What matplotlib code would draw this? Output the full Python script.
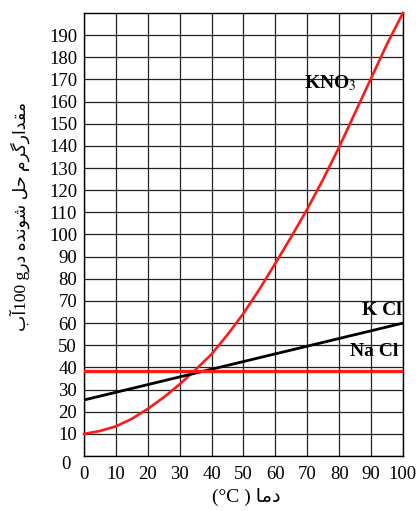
import matplotlib
matplotlib.use("Agg")
import matplotlib.pyplot as plt
import matplotlib.transforms as mtransforms

# ---------------- data ----------------
temps_kno3 = [0, 5, 10, 15, 20, 25, 30, 35, 40, 45, 50, 55, 60, 65, 70, 75, 80, 85, 90, 95, 100]
kno3 = [10, 11.3, 13.4, 16.8, 21.3, 26.5, 32.4, 39, 46, 54.8, 64.4, 75.3, 87, 99, 111.5, 125, 139.5, 155, 170.5, 186, 200]
temps_kcl = [0, 100]
kcl = [25.3, 60]
temps_nacl = [0, 100]
nacl = [38.5, 38.5]
xticks = list(range(0, 101, 10))
yticks = list(range(0, 191, 10))

# ------------- minimal Persian shaping -------------
FORMS = {
    'ا': ('\uFE8D', '\uFE8E', None, None),
    'آ': ('\uFE81', '\uFE82', None, None),
    'ب': ('\uFE8F', '\uFE90', '\uFE91', '\uFE92'),
    'ح': ('\uFEA1', '\uFEA2', '\uFEA3', '\uFEA4'),
    'د': ('\uFEA9', '\uFEAA', None, None),
    'ر': ('\uFEAD', '\uFEAE', None, None),
    'ش': ('\uFEB5', '\uFEB6', '\uFEB7', '\uFEB8'),
    'ق': ('\uFED5', '\uFED6', '\uFED7', '\uFED8'),
    'گ': ('\uFB92', '\uFB93', '\uFB94', '\uFB95'),
    'ل': ('\uFEDD', '\uFEDE', '\uFEDF', '\uFEE0'),
    'م': ('\uFEE1', '\uFEE2', '\uFEE3', '\uFEE4'),
    'ن': ('\uFEE5', '\uFEE6', '\uFEE7', '\uFEE8'),
    'ه': ('\uFEE9', '\uFEEA', '\uFEEB', '\uFEEC'),
    'و': ('\uFEED', '\uFEEE', None, None),
}


def shape_word(w):
    out = []
    for i, c in enumerate(w):
        if c not in FORMS:
            out.append(c)
            continue
        f = FORMS[c]
        jp = i > 0 and w[i - 1] in FORMS and FORMS[w[i - 1]][2] is not None
        jn = f[2] is not None and i + 1 < len(w) and w[i + 1] in FORMS
        if jp and jn:
            out.append(f[3])
        elif jp:
            out.append(f[1])
        elif jn:
            out.append(f[2])
        else:
            out.append(f[0])
    return ''.join(reversed(out))


def fa(text):
    return ' '.join(shape_word(w) for w in reversed(text.split(' ')))


# ---------------- figure ----------------
fig = plt.figure(figsize=(4.18, 5.11), dpi=100)
ax = fig.add_axes([0.201, 0.1076, 0.763, 0.867])

serif = ['Liberation Serif', 'DejaVu Sans']

ax.plot(temps_kno3, kno3, color='#ff1a1a', lw=1.9, zorder=3, clip_on=False)
ax.plot(temps_kcl, kcl, color='black', lw=2.0, zorder=3)
ax.plot(temps_nacl, nacl, color='#ff1a1a', lw=2.4, zorder=3)

ax.set_xlim(0, 100)
ax.set_ylim(0, 200)
ax.set_xticks(xticks)
ax.set_yticks(yticks)
ax.grid(True, color='#222222', lw=0.9)
ax.set_axisbelow(True)
for s in ax.spines.values():
    s.set_linewidth(1.0)
    s.set_color('black')

ax.tick_params(axis='both', length=0, labelsize=13.5)
ax.tick_params(axis='x', pad=7)
ax.tick_params(axis='y', pad=5)
for lab in ax.get_xticklabels() + ax.get_yticklabels():
    lab.set_fontfamily(serif)

# shift the y "0" label slightly down-left like the reference
ylabs = ax.get_yticklabels()
ylabs[0].set_transform(ylabs[0].get_transform() +
                       mtransforms.ScaledTranslation(-6 / 100, -6 / 100, fig.dpi_scale_trans))

# curve labels
ax.text(69, 168.5, r'KNO$_3$', fontfamily='Liberation Serif', fontweight='bold',
        fontsize=14, ha='left', va='center', math_fontfamily='stix')
ax.text(99.5, 65.5, 'K Cl', fontfamily='Liberation Serif', fontweight='bold',
        fontsize=14, ha='right', va='center')
ax.text(98.5, 47, 'Na Cl', fontfamily='Liberation Serif', fontweight='bold',
        fontsize=14, ha='right', va='center')

# axis titles
fig.text(0.59, 0.027, '(°C ) ' + fa('دما'), family=serif, fontsize=14,
         ha='center', va='center')
ylabel = fa('آب') + '100 g' + fa('مقدارگرم حل شونده در')
fig.text(0.047, 0.577, ylabel, family=serif, fontsize=12.5, rotation=90,
         ha='center', va='center')

fig.savefig('out.png', dpi=100)
